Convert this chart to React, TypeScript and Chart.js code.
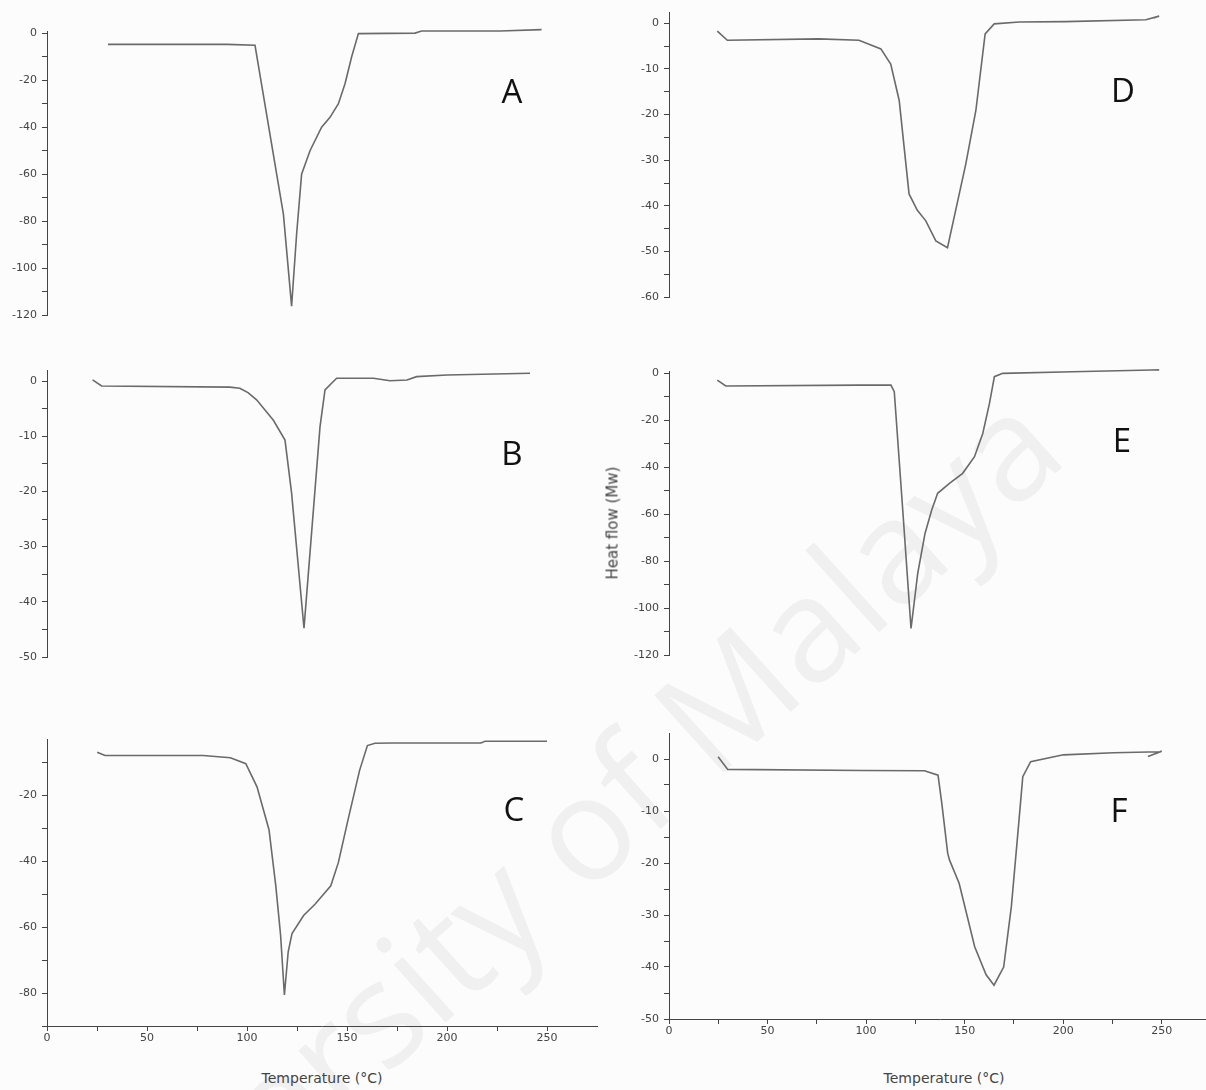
import React, { useEffect, useRef } from 'react';
import { Chart, registerables } from 'chart.js';

Chart.register(...registerables);

// ---- Data (temperature °C, heat flow mW) ----
const tempA = [30.5, 90, 104, 118.2, 122.3, 124.8, 127.3, 131.5, 137.3, 141.5, 145.7, 149, 152.3, 155.7, 184, 187.3, 226.5, 247.3];
const flowA = [-4.7, -4.7, -5.1, -77, -116.2, -85.6, -60, -50, -40, -35.8, -30, -21.5, -10.1, -0.1, 0.1, 1.0, 1.0, 1.6];

const tempB = [22.8, 27.3, 91.4, 96.4, 100.5, 104.8, 113.2, 119, 122.3, 128.5, 136.5, 139, 144.8, 163.2, 171.5, 180, 184.8, 200, 241.5];
const flowB = [0.2, -0.9, -1.1, -1.3, -2.1, -3.4, -7.1, -10.7, -20.3, -44.8, -8.3, -1.6, 0.5, 0.5, 0.05, 0.2, 0.8, 1.1, 1.4];

const tempC = [25.1, 29, 78, 91.7, 99.4, 105, 111, 114.4, 116.8, 118.7, 120.6, 122.5, 128.3, 134.1, 141.9, 145.7, 150.5, 156.3, 160.2, 164, 172.7, 217, 219, 250];
const flowC = [-7.0, -8.0, -8.0, -8.7, -10.5, -17.5, -30.5, -47.5, -62.5, -80.6, -67.5, -62, -56.5, -53, -47.5, -40.4, -27.5, -12.5, -5, -4.3, -4.2, -4.2, -3.7, -3.7];

const tempD = [24.5, 29.6, 76, 96.4, 107.5, 112.5, 116.8, 121.8, 126, 130.3, 135.4, 141.3, 150.6, 155.7, 160.4, 165, 177.7, 201, 242, 248.7, 246];
const flowD = [-1.7, -3.7, -3.4, -3.7, -5.6, -8.9, -16.9, -37.4, -41, -43.3, -47.7, -49.2, -30.8, -19.1, -2.3, -0.1, 0.3, 0.4, 0.8, 1.6, 1.2];

const tempE = [24.5, 28.8, 96.4, 112.6, 114.3, 118.6, 122.8, 126.2, 129.9, 133.3, 136.3, 142.3, 149, 155, 159.2, 162.6, 165.1, 169.3, 204.6, 245, 248.7];
const flowE = [-2.9, -5.4, -5, -5, -7.8, -58.2, -108.7, -85.2, -68.2, -58.2, -51.1, -46.9, -42.6, -35.5, -25.6, -12.8, -1.4, 0, 0.7, 1.4, 1.5];

const tempF = [24.9, 29.8, 98.3, 129.6, 136.5, 138.4, 141.4, 142.3, 147.2, 155.1, 160.9, 164.9, 169.8, 173.7, 177.6, 179.5, 183.5, 200.1, 225.6, 249, 250, 243];
const flowF = [0.45, -2.0, -2.2, -2.25, -3.1, -8.5, -18.1, -19.4, -23.9, -36.1, -41.5, -43.5, -40, -28.4, -11.7, -3.4, -0.5, 0.8, 1.2, 1.4, 1.5, 0.5];

// ---- Tick values ----
const xTicks = [0, 25, 50, 75, 100, 125, 150, 175, 200, 225, 250];
const xTickLabels = [0, 50, 100, 150, 200, 250];

const yTicksA = [-120, -110, -100, -90, -80, -70, -60, -50, -40, -30, -20, -10, 0];
const yLabelsA = [-120, -100, -80, -60, -40, -20, 0];
const yTicksB = [-50, -45, -40, -35, -30, -25, -20, -15, -10, -5, 0];
const yLabelsB = [-50, -40, -30, -20, -10, 0];
const yTicksC = [-90, -80, -70, -60, -50, -40, -30, -20, -10];
const yLabelsC = [-80, -60, -40, -20];
const yTicksD = [-60, -55, -50, -45, -40, -35, -30, -25, -20, -15, -10, -5, 0];
const yLabelsD = [-60, -50, -40, -30, -20, -10, 0];
const yTicksE = yTicksA;
const yLabelsE = yLabelsA;
const yTicksF = [-50, -45, -40, -35, -30, -25, -20, -15, -10, -5, 0];
const yLabelsF = [-50, -40, -30, -20, -10, 0];

const panelLetters = ['A', 'B', 'C', 'D', 'E', 'F'];
const xTitle = 'Temperature (°C)';
const yTitle = 'Heat flow (Mw)';
const watermark = 'University of Malaya';

// ---- Layout / styling (kept separate from the data) ----
const YW = 50;
const PT = 12;
const PR = 6;
const PB = 12;
const XH = 26;
const AXIS = '#444';
const LINE = '#6a6a6a';
const TICK_FONT = { family: 'DejaVu Sans', size: 11 };

type PanelDef = {
  temps: number[];
  flows: number[];
  yTicks: number[];
  yLabels: number[];
  yMin: number;
  yMax: number;
  left: number;
  right: number;
  top: number;
  bottom: number;
  showX: boolean;
};

const panels: PanelDef[] = [
  { temps: tempA, flows: flowA, yTicks: yTicksA, yLabels: yLabelsA, yMin: -120, yMax: 1, left: 47, right: 597, top: 31, bottom: 315, showX: false },
  { temps: tempB, flows: flowB, yTicks: yTicksB, yLabels: yLabelsB, yMin: -50, yMax: 2, left: 47, right: 597, top: 370, bottom: 657, showX: false },
  { temps: tempC, flows: flowC, yTicks: yTicksC, yLabels: yLabelsC, yMin: -90, yMax: -3, left: 47, right: 597, top: 739, bottom: 1026, showX: true },
  { temps: tempD, flows: flowD, yTicks: yTicksD, yLabels: yLabelsD, yMin: -60, yMax: 2.5, left: 669, right: 1211, top: 12, bottom: 297, showX: false },
  { temps: tempE, flows: flowE, yTicks: yTicksE, yLabels: yLabelsE, yMin: -120, yMax: 1, left: 669, right: 1211, top: 371, bottom: 655, showX: false },
  { temps: tempF, flows: flowF, yTicks: yTicksF, yLabels: yLabelsF, yMin: -50, yMax: 5, left: 669, right: 1211, top: 733, bottom: 1019, showX: true },
];

const letterPos = [
  [512, 90], [512, 452], [514, 808], [1123, 89], [1122, 439], [1119, 809],
];

function Panel({ p }: { p: PanelDef }) {
  const ref = useRef<HTMLCanvasElement>(null);
  const width = p.right - p.left + YW + PR;
  const height = p.bottom - p.top + PT + (p.showX ? XH + 2 : PB);

  useEffect(() => {
    const pts = p.temps.map((t, i) => ({ x: t, y: p.flows[i] }));
    const xScale: any = p.showX
      ? {
          type: 'linear',
          min: 0,
          max: 275,
          afterBuildTicks: (s: any) => {
            s.ticks = xTicks.map((v) => ({ value: v }));
          },
          afterFit: (s: any) => {
            s.height = XH;
          },
          ticks: {
            autoSkip: false,
            maxRotation: 0,
            padding: 1,
            color: AXIS,
            font: TICK_FONT,
            callback: (v: any) => (xTickLabels.includes(Number(v)) ? String(v) : ''),
          },
          grid: { drawOnChartArea: false, drawTicks: true, tickLength: 5, color: AXIS, tickColor: AXIS },
          border: { display: true, color: AXIS, width: 1 },
        }
      : { type: 'linear', min: 0, max: 275, display: false };

    const chart = new Chart(ref.current!, {
      type: 'line',
      data: {
        datasets: [
          {
            data: pts,
            borderColor: LINE,
            borderWidth: 1.6,
            pointRadius: 0,
            tension: 0,
            fill: false,
            clip: false as any,
          },
        ],
      },
      options: {
        responsive: false,
        maintainAspectRatio: false,
        animation: false,
        events: [],
        layout: { padding: { top: PT, right: PR, bottom: p.showX ? 2 : PB, left: 0 } },
        plugins: { legend: { display: false }, tooltip: { enabled: false }, title: { display: false } },
        scales: {
          x: xScale,
          y: {
            type: 'linear',
            min: p.yMin,
            max: p.yMax,
            afterBuildTicks: (s: any) => {
              s.ticks = p.yTicks.map((v) => ({ value: v }));
            },
            afterFit: (s: any) => {
              s.width = YW;
            },
            ticks: {
              autoSkip: false,
              padding: 5,
              color: AXIS,
              font: TICK_FONT,
              callback: (v: any) => (p.yLabels.includes(Number(v)) ? String(v) : ''),
            },
            grid: { drawOnChartArea: false, drawTicks: true, tickLength: 5, color: AXIS, tickColor: AXIS },
            border: { display: true, color: AXIS, width: 1 },
          },
        },
      } as any,
    });
    return () => chart.destroy();
  }, []);

  return (
    <canvas
      ref={ref}
      width={width}
      height={height}
      style={{ position: 'absolute', left: p.left - YW, top: p.top - PT, width, height }}
    />
  );
}

export default function App() {
  return (
    <div
      style={{
        position: 'fixed',
        left: 0,
        top: 0,
        width: 1206,
        height: 1090,
        overflow: 'hidden',
        background: '#fcfcfc',
      }}
    >
      <div
        style={{
          position: 'absolute',
          left: 525,
          top: 875,
          transform: 'translate(-50%, -50%) rotate(-42deg)',
          fontFamily: '"Open Sans", sans-serif',
          fontSize: 145,
          lineHeight: 1,
          color: '#f0f0f0',
          whiteSpace: 'nowrap',
        }}
      >
        {watermark}
      </div>
      {panels.map((p, i) => (
        <Panel key={i} p={p} />
      ))}
      {panelLetters.map((l, i) => (
        <div
          key={l}
          style={{
            position: 'absolute',
            left: letterPos[i][0],
            top: letterPos[i][1],
            transform: 'translate(-50%, -50%)',
            fontFamily: '"Open Sans", sans-serif',
            fontSize: 33,
            lineHeight: 1,
            color: '#111',
          }}
        >
          {l}
        </div>
      ))}
      {[322, 944].map((cx) => (
        <div
          key={cx}
          style={{
            position: 'absolute',
            left: cx,
            top: 1078,
            transform: 'translate(-50%, -50%)',
            fontFamily: '"DejaVu Sans", sans-serif',
            fontSize: 14,
            lineHeight: 1,
            color: '#444',
            whiteSpace: 'nowrap',
          }}
        >
          {xTitle}
        </div>
      ))}
      <div
        style={{
          position: 'absolute',
          left: 613,
          top: 523,
          transform: 'translate(-50%, -50%) rotate(-90deg)',
          fontFamily: '"DejaVu Sans", sans-serif',
          fontSize: 15,
          lineHeight: 1,
          color: '#444',
          whiteSpace: 'nowrap',
        }}
      >
        {yTitle}
      </div>
    </div>
  );
}
